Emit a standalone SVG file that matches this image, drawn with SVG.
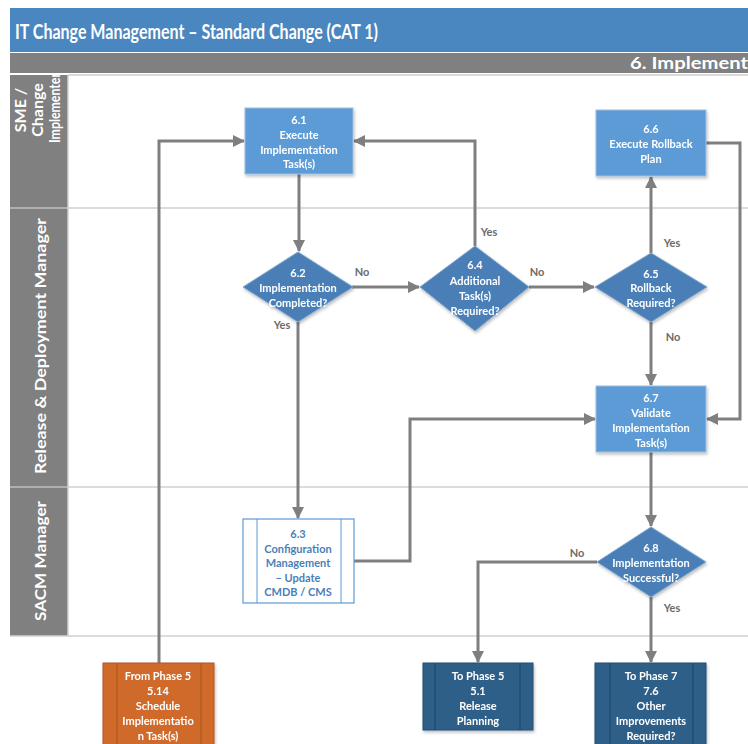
<svg xmlns="http://www.w3.org/2000/svg" width="748" height="744" viewBox="0 0 748 744">
  <style>
    .hdr { font-family: Lato, "Liberation Sans", sans-serif; font-weight: bold; fill: #ffffff; }
    .lane { font-family: Lato, "Liberation Sans", sans-serif; font-weight: bold; font-size: 16px; fill: #ffffff; text-anchor: middle; }
    .nt { font-family: Lato, "Liberation Sans", sans-serif; font-weight: bold; font-size: 11px; fill: #ffffff; text-anchor: middle; dominant-baseline: central; }
    .nt-blue { fill: #4a7fb8; }
    .lbl { font-family: Lato, "Liberation Sans", sans-serif; font-weight: bold; font-size: 11px; fill: #6b6b6b; text-anchor: middle; dominant-baseline: central; }
    .task { fill: #5b9bd5; stroke: #9dbfe0; stroke-width: 1; }
    .dec { fill: #4a7fb6; stroke: #7fa6d0; stroke-width: 1; }
    .sub { fill: #ffffff; stroke: #5b9bd5; stroke-width: 1.2; }
    .ext-o { fill: #cf6a2b; stroke: #b05820; stroke-width: 1; }
    .ext-b { fill: #2f5f88; stroke: #244d70; stroke-width: 1; }
    .inner { fill: none; stroke-width: 1; }
    .conn { fill: none; stroke: #7f7f7f; stroke-width: 3; }
    .laneline { stroke: #d0d0d0; stroke-width: 1.5; }
  </style>
  <defs>
    <marker id="arrow" viewBox="0 0 12 12" refX="11" refY="6" markerWidth="12" markerHeight="12" markerUnits="userSpaceOnUse" orient="auto">
      <path d="M0,0 L12,6 L0,12 Z" fill="#7f7f7f"/>
    </marker>
    <filter id="shadow" x="-10%" y="-10%" width="125%" height="130%">
      <feDropShadow dx="1" dy="2" stdDeviation="1.5" flood-color="#000000" flood-opacity="0.25"/>
    </filter>
    <clipPath id="lane1clip">
      <rect x="10" y="75" width="58" height="133"/>
    </clipPath>
  </defs>

  <rect x="0" y="0" width="748" height="744" fill="#ffffff"/>

  <!-- Title and phase bars -->
  <rect x="10" y="8" width="738" height="44" fill="#4a86c0"/>
  <text class="hdr" x="15" y="39" font-size="21" textLength="363" lengthAdjust="spacingAndGlyphs">IT Change Management – Standard Change (CAT 1)</text>
  <rect x="10" y="53" width="738" height="20" fill="#808080"/>
  <text class="hdr" x="630" y="69" font-size="17" textLength="118" lengthAdjust="spacingAndGlyphs">6. Implement</text>

  <!-- Swimlanes -->
  <g id="lanes">
    <rect x="10" y="75" width="58" height="561" fill="#808080"/>
    <line x1="10" y1="208" x2="68" y2="208" stroke="#bfbfbf" stroke-width="1.5"/>
    <line x1="10" y1="487" x2="68" y2="487" stroke="#bfbfbf" stroke-width="1.5"/>
    <line class="laneline" x1="68" y1="75" x2="748" y2="75"/>
    <line class="laneline" x1="68" y1="208" x2="748" y2="208"/>
    <line class="laneline" x1="68" y1="487" x2="748" y2="487"/>
    <line class="laneline" x1="10" y1="636" x2="748" y2="636"/>
    <line class="laneline" x1="68" y1="75" x2="68" y2="636"/>
    <g clip-path="url(#lane1clip)">
      <text class="lane" transform="translate(38,108) rotate(-90)">
        <tspan x="0" y="-12">SME /</tspan>
        <tspan x="0" y="5">Change</tspan>
        <tspan x="0" y="22" textLength="70" lengthAdjust="spacingAndGlyphs">Implementer</tspan>
      </text>
    </g>
    <text class="lane" transform="translate(46,346) rotate(-90)" textLength="256" lengthAdjust="spacingAndGlyphs">Release &amp; Deployment Manager</text>
    <text class="lane" transform="translate(46,561) rotate(-90)" textLength="120" lengthAdjust="spacingAndGlyphs">SACM Manager</text>
  </g>

  <!-- Connectors -->
  <g id="connectors">
    <polyline class="conn" points="159,663 159,141 244,141" marker-end="url(#arrow)"/>
    <polyline class="conn" points="299,174 299,251" marker-end="url(#arrow)"/>
    <polyline class="conn" points="352,287 419,287" marker-end="url(#arrow)"/>
    <polyline class="conn" points="298,322 298,518" marker-end="url(#arrow)"/>
    <polyline class="conn" points="475,246 475,141 354,141" marker-end="url(#arrow)"/>
    <polyline class="conn" points="529,287 594,287" marker-end="url(#arrow)"/>
    <polyline class="conn" points="651,253 651,177" marker-end="url(#arrow)"/>
    <polyline class="conn" points="651,322 651,385" marker-end="url(#arrow)"/>
    <polyline class="conn" points="706,143 740,143 740,419 707,419" marker-end="url(#arrow)"/>
    <polyline class="conn" points="354,561 410,561 410,419 595,419" marker-end="url(#arrow)"/>
    <polyline class="conn" points="651,452 651,526" marker-end="url(#arrow)"/>
    <polyline class="conn" points="597,562 478,562 478,662" marker-end="url(#arrow)"/>
    <polyline class="conn" points="651,597 651,662" marker-end="url(#arrow)"/>
    <text class="lbl" x="362" y="271">No</text>
    <text class="lbl" x="282" y="324">Yes</text>
    <text class="lbl" x="489" y="231">Yes</text>
    <text class="lbl" x="537" y="271">No</text>
    <text class="lbl" x="672" y="242">Yes</text>
    <text class="lbl" x="673" y="336">No</text>
    <text class="lbl" x="577" y="552">No</text>
    <text class="lbl" x="672" y="607">Yes</text>
  </g>

  <!-- Nodes -->
  <g id="n61" filter="url(#shadow)">
    <rect class="task" x="245" y="108" width="108" height="66"/>
    <text class="nt" x="299" y="119">6.1</text>
    <text class="nt" x="299" y="134">Execute</text>
    <text class="nt" x="299" y="149">Implementation</text>
    <text class="nt" x="299" y="163">Task(s)</text>
  </g>

  <g id="n62" filter="url(#shadow)">
    <polygon class="dec" points="298,252 353,287 298,322 243,287"/>
    <text class="nt" x="298" y="272">6.2</text>
    <text class="nt" x="298" y="287">Implementation</text>
    <text class="nt" x="298" y="302">Completed?</text>
  </g>

  <g id="n64" filter="url(#shadow)">
    <polygon class="dec" points="475,246 529,287 475,331 420,287"/>
    <text class="nt" x="475" y="264">6.4</text>
    <text class="nt" x="475" y="280">Additional</text>
    <text class="nt" x="475" y="295">Task(s)</text>
    <text class="nt" x="475" y="310">Required?</text>
  </g>

  <g id="n65" filter="url(#shadow)">
    <polygon class="dec" points="651,253 707,287 651,322 595,287"/>
    <text class="nt" x="651" y="273">6.5</text>
    <text class="nt" x="651" y="287">Rollback</text>
    <text class="nt" x="651" y="302">Required?</text>
  </g>

  <g id="n66" filter="url(#shadow)">
    <rect class="task" x="596" y="110" width="110" height="66"/>
    <text class="nt" x="651" y="128">6.6</text>
    <text class="nt" x="651" y="143">Execute Rollback</text>
    <text class="nt" x="651" y="158">Plan</text>
  </g>

  <g id="n67" filter="url(#shadow)">
    <rect class="task" x="596" y="386" width="110" height="66"/>
    <text class="nt" x="651" y="397">6.7</text>
    <text class="nt" x="651" y="412">Validate</text>
    <text class="nt" x="651" y="427">Implementation</text>
    <text class="nt" x="651" y="442">Task(s)</text>
  </g>

  <g id="n63">
    <rect class="sub" x="243" y="519" width="111" height="84"/>
    <line class="inner" x1="257" y1="519" x2="257" y2="603" stroke="#5b9bd5"/>
    <line class="inner" x1="341" y1="519" x2="341" y2="603" stroke="#5b9bd5"/>
    <text class="nt nt-blue" x="298" y="533">6.3</text>
    <text class="nt nt-blue" x="298" y="548">Configuration</text>
    <text class="nt nt-blue" x="298" y="562">Management</text>
    <text class="nt nt-blue" x="298" y="577">– Update</text>
    <text class="nt nt-blue" x="298" y="591">CMDB / CMS</text>
  </g>

  <g id="n68" filter="url(#shadow)">
    <polygon class="dec" points="651,527 706,562 651,597 597,562"/>
    <text class="nt" x="651" y="547">6.8</text>
    <text class="nt" x="651" y="562">Implementation</text>
    <text class="nt" x="651" y="577">Successful?</text>
  </g>

  <g id="from514" filter="url(#shadow)">
    <rect class="ext-o" x="103" y="663" width="111" height="90"/>
    <line class="inner" x1="117" y1="663" x2="117" y2="753" stroke="#a9521b"/>
    <line class="inner" x1="201" y1="663" x2="201" y2="753" stroke="#a9521b"/>
    <text class="nt" x="158" y="675">From Phase 5</text>
    <text class="nt" x="158" y="690">5.14</text>
    <text class="nt" x="158" y="705">Schedule</text>
    <text class="nt" x="158" y="720">Implementatio</text>
    <text class="nt" x="158" y="735">n Task(s)</text>
  </g>

  <g id="to51" filter="url(#shadow)">
    <rect class="ext-b" x="423" y="663" width="110" height="67"/>
    <line class="inner" x1="435" y1="663" x2="435" y2="730" stroke="#1f4465"/>
    <line class="inner" x1="520" y1="663" x2="520" y2="730" stroke="#1f4465"/>
    <text class="nt" x="478" y="675">To Phase 5</text>
    <text class="nt" x="478" y="690">5.1</text>
    <text class="nt" x="478" y="705">Release</text>
    <text class="nt" x="478" y="720">Planning</text>
  </g>

  <g id="to76" filter="url(#shadow)">
    <rect class="ext-b" x="595" y="663" width="111" height="90"/>
    <line class="inner" x1="610" y1="663" x2="610" y2="753" stroke="#1f4465"/>
    <line class="inner" x1="693" y1="663" x2="693" y2="753" stroke="#1f4465"/>
    <text class="nt" x="651" y="675">To Phase 7</text>
    <text class="nt" x="651" y="690">7.6</text>
    <text class="nt" x="651" y="705">Other</text>
    <text class="nt" x="651" y="720">Improvements</text>
    <text class="nt" x="651" y="735">Required?</text>
  </g>
</svg>
